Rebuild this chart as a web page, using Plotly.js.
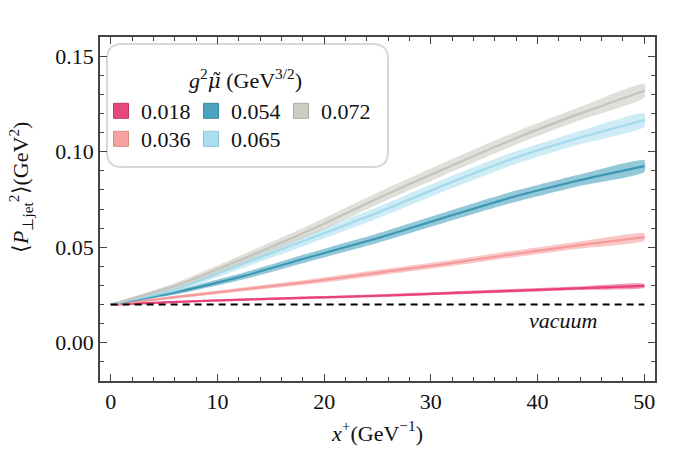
<!DOCTYPE html>
<html><head><meta charset="utf-8">
<script src="https://cdn.plot.ly/plotly-3.0.1.min.js"></script>
<style>html,body{margin:0;padding:0;background:#fff}</style>
</head><body><div id="chart"></div>
<script>
// ---- data ----
const xValues = [0, 6.25, 12.5, 18.75, 25, 31.25, 37.5, 43.75, 50];
const labels = ['0.018', '0.036', '0.054', '0.065', '0.072'];
const y018 = [0.020, 0.0214, 0.0226, 0.0236, 0.0246, 0.0259, 0.0272, 0.0285, 0.0298];
const y036 = [0.020, 0.0240, 0.0280, 0.0320, 0.0366, 0.0412, 0.0462, 0.0510, 0.0553];
const y054 = [0.020, 0.0266, 0.0350, 0.0450, 0.0547, 0.0655, 0.0760, 0.0848, 0.0924];
const y065 = [0.020, 0.0284, 0.0416, 0.0547, 0.0680, 0.0825, 0.0960, 0.1070, 0.1166];
const y072 = [0.020, 0.0302, 0.0442, 0.0591, 0.0755, 0.0910, 0.1060, 0.1195, 0.1319];
const e018 = [0, 0.0004, 0.0006, 0.0007, 0.0008, 0.0008, 0.0009, 0.0009, 0.0010];
const e036 = [0, 0.0008, 0.0011, 0.0013, 0.0015, 0.0016, 0.0017, 0.0018, 0.0019];
const e054 = [0, 0.0012, 0.0018, 0.0022, 0.0025, 0.0027, 0.0029, 0.0030, 0.0031];
const e065 = [0, 0.0014, 0.0022, 0.0027, 0.0030, 0.0032, 0.0033, 0.0034, 0.0035];
const e072 = [0, 0.0015, 0.0023, 0.0028, 0.0031, 0.0033, 0.0034, 0.0035, 0.0036];
const vacuumX = [0, 50];
const vacuumY = [0.02, 0.02];
const vacuumLabel = 'vacuum';
const legendTitle = '<i>g</i><sup>2</sup><span style="font-family:DejaVu Serif;font-style:italic;font-size:20px">μ̃</span> (GeV<sup>3/2</sup>)';

const seriesY = [y018, y036, y054, y065, y072];
const seriesE = [e018, e036, e054, e065, e072];
// ---- styles ----
const bandColors = ['rgba(232,70,127,0.55)', 'rgba(247,161,161,0.6)', 'rgba(75,163,190,0.6)', 'rgba(171,223,238,0.6)', 'rgba(203,203,195,0.6)'];
const lineColors = ['#E8417B', '#F59A9A', '#3C97B3', '#A2DAEB', '#C4C4BC'];
const swatchColors = ['#E8467F', '#F7A1A1', '#4BA3BE', '#ABDFEE', '#CDCDC5'];
const swatchBorders = ['#C23466', '#D88888', '#3A8AA2', '#8FC3D3', '#A9A9A2'];
const legendOf = ['legend', 'legend2', 'legend', 'legend2', 'legend'];
const FONT = 'Liberation Serif';

const traces = [];
seriesY.forEach((ys, i) => {
  const es = seriesE[i];
  const upper = ys.map((v, k) => v + es[k]);
  const lower = ys.map((v, k) => v - es[k]);
  traces.push({
    x: xValues.concat(xValues.slice().reverse()),
    y: upper.concat(lower.slice().reverse()),
    type: 'scatter', mode: 'lines', fill: 'toself', line: {width: 0, shape: 'spline', smoothing: 0.5},
    fillcolor: bandColors[i], hoverinfo: 'skip', showlegend: false
  });
  traces.push({
    x: xValues, y: ys, type: 'scatter', mode: 'lines',
    line: {color: lineColors[i], width: 2.2, shape: 'spline', smoothing: 0.5}, showlegend: false, name: labels[i]
  });
});
traces.push({
  x: vacuumX, y: vacuumY, type: 'scatter', mode: 'lines',
  line: {color: '#000', width: 2, dash: '7px,5px'}, showlegend: false
});
// legend entries
labels.forEach((lab, i) => {
  traces.push({
    x: [null], y: [null], type: 'scatter', mode: 'markers', name: lab,
    legend: legendOf[i],
    marker: {symbol: 'square', size: 15, color: swatchColors[i], line: {color: swatchBorders[i], width: 1}}
  });
});

const W = 555, H = 344, L = 100, T = 37;
const px = v => (v - L) / W;
const py = v => (T + H - v) / H;
const bx0 = px(107), bx1 = px(388), by0 = py(44), by1 = py(167);
const rx = 15 / W, ry = 15 / H;
const boxPath = `M ${bx0 + rx},${by0} L ${bx1 - rx},${by0} Q ${bx1},${by0} ${bx1},${by0 - ry} L ${bx1},${by1 + ry} Q ${bx1},${by1} ${bx1 - rx},${by1} L ${bx0 + rx},${by1} Q ${bx0},${by1} ${bx0},${by1 + ry} L ${bx0},${by0 - ry} Q ${bx0},${by0} ${bx0 + rx},${by0} Z`;

const textFont = {family: FONT, size: 22, color: '#111'};
const axisCommon = {
  ticks: 'inside', ticklen: 7, tickwidth: 1.2, tickcolor: '#444',
  showline: true, linecolor: '#444', linewidth: 1.5, mirror: 'ticks',
  showgrid: false, zeroline: false,
  tickfont: textFont
};
const legendCommon = {
  orientation: 'h', xanchor: 'left', yanchor: 'top',
  bgcolor: 'rgba(0,0,0,0)', borderwidth: 0,
  font: textFont,
  entrywidth: 45, entrywidthmode: 'pixels', itemwidth: 30
};

const layout = {
  width: 694, height: 458,
  margin: {l: L, r: 694 - L - W, t: T, b: 458 - T - H},
  paper_bgcolor: '#fff', plot_bgcolor: '#fff',
  font: textFont,
  showlegend: true,
  xaxis: Object.assign({}, axisCommon, {
    range: [-1, 51], tickvals: [0, 10, 20, 30, 40, 50],
    minor: {dtick: 2, tick0: 0, ticks: 'inside', ticklen: 4, tickwidth: 1, tickcolor: '#444'},
    title: {text: '<i>x</i><sup>+</sup>(GeV<sup>−1</sup>)', font: textFont, standoff: 12}
  }),
  yaxis: Object.assign({}, axisCommon, {
    range: [-0.02, 0.16], tickvals: [0, 0.05, 0.10, 0.15], tickformat: '.2f',
    minor: {dtick: 0.01, tick0: 0, ticks: 'inside', ticklen: 4, tickwidth: 1, tickcolor: '#444'}
  }),
  legend: Object.assign({}, legendCommon, {x: px(101), y: py(90)}),
  legend2: Object.assign({}, legendCommon, {x: px(101), y: py(118)}),
  shapes: [{type: 'path', xref: 'paper', yref: 'paper', path: boxPath, fillcolor: '#fff', line: {color: '#D8D8D8', width: 2}, layer: 'below'}],
  annotations: [
    {xref: 'paper', yref: 'paper', x: px(245), y: py(79), xanchor: 'center', yanchor: 'middle', text: legendTitle, showarrow: false, font: textFont},
    {xref: 'x', yref: 'y', x: 42.4, y: 0.0117, xanchor: 'center', yanchor: 'middle', text: '<i>' + vacuumLabel + '</i>', showarrow: false, font: textFont},
    {xref: 'paper', yref: 'paper', x: px(20), y: py(188), xanchor: 'center', yanchor: 'middle', textangle: -90, showarrow: false,
     text: '⟨<i>P</i><sub>⊥jet</sub><sup>2</sup>⟩(GeV<sup>2</sup>)', font: textFont}
  ]
};

Plotly.newPlot('chart', traces, layout, {displayModeBar: false});
</script>
</body></html>
